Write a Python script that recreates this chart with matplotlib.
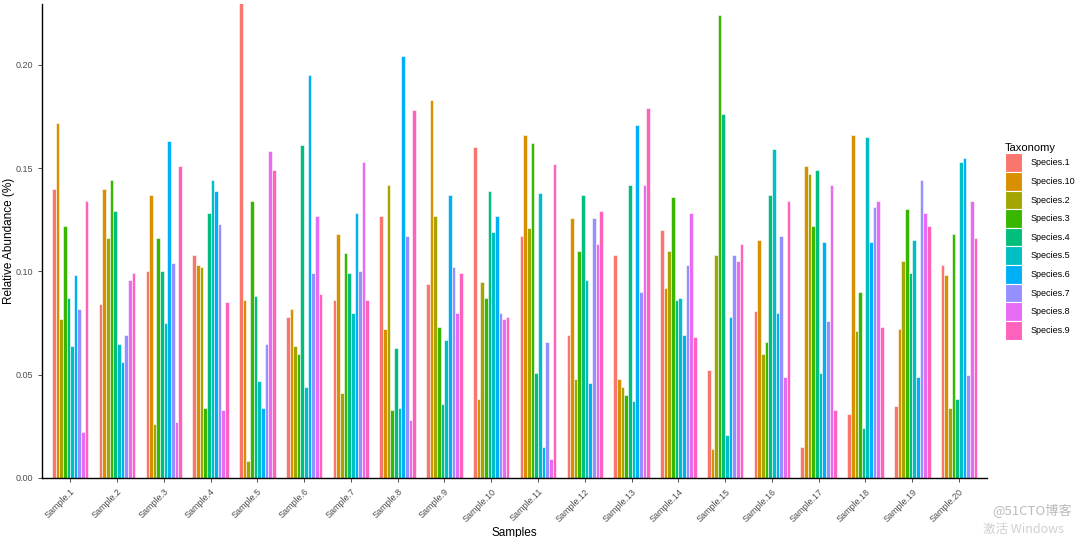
import numpy as np
import matplotlib
matplotlib.use("Agg")
import matplotlib.pyplot as plt
from matplotlib.patches import Patch

plt.rcParams['font.family'] = ['Liberation Sans', 'DejaVu Sans']

samples = [f"Sample.{i}" for i in range(1, 21)]
species = ["Species.1", "Species.10", "Species.2", "Species.3", "Species.4",
           "Species.5", "Species.6", "Species.7", "Species.8", "Species.9"]
colors = ["#F8766D", "#D89000", "#A3A500", "#39B600", "#00BF7D",
          "#00BFC4", "#00B0F6", "#9590FF", "#E76BF3", "#FF62BC"]

# relative abundance per sample, in legend (species) order
abund = [
    [0.140, 0.172, 0.077, 0.122, 0.087, 0.064, 0.098, 0.082, 0.022, 0.134],  # 1
    [0.084, 0.140, 0.116, 0.144, 0.129, 0.065, 0.056, 0.069, 0.096, 0.099],  # 2
    [0.100, 0.137, 0.026, 0.116, 0.100, 0.075, 0.163, 0.104, 0.027, 0.151],  # 3
    [0.108, 0.103, 0.102, 0.034, 0.128, 0.144, 0.139, 0.123, 0.033, 0.085],  # 4
    [0.240, 0.086, 0.008, 0.134, 0.088, 0.047, 0.034, 0.065, 0.158, 0.149],  # 5
    [0.078, 0.082, 0.064, 0.060, 0.161, 0.044, 0.195, 0.099, 0.127, 0.089],  # 6
    [0.086, 0.118, 0.041, 0.109, 0.099, 0.080, 0.128, 0.100, 0.153, 0.086],  # 7
    [0.127, 0.072, 0.142, 0.033, 0.063, 0.034, 0.204, 0.117, 0.028, 0.178],  # 8
    [0.094, 0.183, 0.127, 0.073, 0.036, 0.067, 0.137, 0.102, 0.080, 0.099],  # 9
    [0.160, 0.038, 0.095, 0.087, 0.139, 0.119, 0.127, 0.080, 0.077, 0.078],  # 10
    [0.117, 0.166, 0.121, 0.162, 0.051, 0.138, 0.015, 0.066, 0.009, 0.152],  # 11
    [0.069, 0.126, 0.048, 0.110, 0.137, 0.096, 0.046, 0.126, 0.113, 0.129],  # 12
    [0.108, 0.048, 0.044, 0.040, 0.142, 0.037, 0.171, 0.090, 0.142, 0.179],  # 13
    [0.120, 0.092, 0.110, 0.136, 0.086, 0.087, 0.069, 0.103, 0.128, 0.068],  # 14
    [0.052, 0.014, 0.108, 0.224, 0.176, 0.021, 0.078, 0.108, 0.105, 0.113],  # 15
    [0.081, 0.115, 0.060, 0.066, 0.137, 0.159, 0.080, 0.117, 0.049, 0.134],  # 16
    [0.015, 0.151, 0.147, 0.122, 0.149, 0.051, 0.114, 0.076, 0.142, 0.033],  # 17
    [0.031, 0.166, 0.071, 0.090, 0.024, 0.165, 0.114, 0.131, 0.134, 0.073],  # 18
    [0.035, 0.072, 0.105, 0.130, 0.099, 0.115, 0.049, 0.144, 0.128, 0.122],  # 19
    [0.103, 0.098, 0.034, 0.118, 0.038, 0.153, 0.155, 0.050, 0.134, 0.116],  # 20
]
abund = np.array(abund)

fig = plt.figure(figsize=(10.8, 5.37), dpi=100)
ax = fig.add_axes([0.039, 0.110, 0.875, 0.883])

group_w = 0.78
bar_w = group_w / len(species)
x = np.arange(1, len(samples) + 1)
for j, (sp, c) in enumerate(zip(species, colors)):
    pos = x - group_w / 2 + bar_w * (j + 0.5)
    ax.bar(pos, abund[:, j], width=bar_w, color=c, edgecolor="white",
           linewidth=0.4, label=sp)

ax.set_xlim(0.4, 20.6)
ax.set_ylim(0, 0.2295)
ax.set_yticks([0, 0.05, 0.10, 0.15, 0.20])
ax.set_yticklabels(["0.00", "0.05", "0.10", "0.15", "0.20"])
ax.set_xticks(x)
ax.set_xticklabels(samples, rotation=45, ha="right", rotation_mode="anchor")
ax.tick_params(axis="both", labelsize=6.5, labelcolor="#4D4D4D",
               color="#333333", length=3, width=0.6)
for s in ["top", "right"]:
    ax.spines[s].set_visible(False)
for s in ["left", "bottom"]:
    ax.spines[s].set_linewidth(1.0)
    ax.spines[s].set_color("black")

ax.set_xlabel("Samples", fontsize=8.5, labelpad=2)
ax.set_ylabel("Relative Abundance (%)", fontsize=8.5, va="center")
ax.yaxis.set_label_coords(-0.035, 0.5)

handles = [Patch(facecolor=c, edgecolor="white", linewidth=0.8) for c in colors]
leg = fig.legend(handles, species, title="Taxonomy", loc="upper left",
                 bbox_to_anchor=(0.927, 0.740), frameon=False, fontsize=6.5,
                 title_fontsize=8, handlelength=1.88, handleheight=2.8,
                 labelspacing=0.0, handletextpad=1.0, borderaxespad=0)
leg._legend_box.align = "left"

# watermark seen on the source image
fig.text(0.993, 0.036, "@51CTO博客", ha="right", va="bottom", fontsize=9.5,
         color="#BBBBBB", family=["Noto Sans CJK SC", "DejaVu Sans"])
fig.text(0.985, 0.002, "激活 Windows", ha="right", va="bottom", fontsize=9,
         color="#D0D0D0", family=["Noto Sans CJK SC", "DejaVu Sans"])

fig.savefig("out.png", dpi=100)
